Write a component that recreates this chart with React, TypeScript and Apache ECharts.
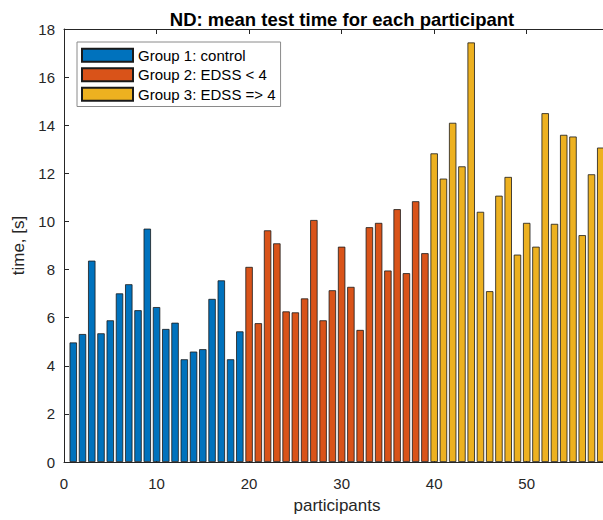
import { useEffect, useRef } from "react";
import * as echarts from "echarts";

const group1 = [4.97, 5.32, 8.37, 5.35, 5.89, 7.01, 7.39, 6.31, 9.7, 6.44, 5.53, 5.79, 4.27, 4.59, 4.69, 6.78, 7.55, 4.27, 5.43];
const group2 = [8.11, 5.77, 9.63, 9.09, 6.26, 6.22, 6.8, 10.06, 5.89, 7.14, 8.95, 7.28, 5.49, 9.76, 9.94, 7.96, 10.51, 7.85, 10.84, 8.68];
const group3 = [12.83, 11.78, 14.1, 12.29, 17.44, 10.4, 7.1, 11.07, 11.85, 8.62, 9.94, 8.95, 14.5, 9.9, 13.6, 13.53, 9.43, 11.96, 13.07];
const names = ["Group 1: control", "Group 2: EDSS < 4", "Group 3: EDSS => 4"];
const colors = ["#0072BD", "#D95319", "#EDB120"];
const starts = [1, 20, 40];

export default function App() {
  const ref = useRef<HTMLDivElement>(null);
  useEffect(() => {
    const chart = echarts.init(ref.current!, null, { renderer: "svg" });
    const groups = [group1, group2, group3];
    const font = "Liberation Sans, Arial, Helvetica, sans-serif";
    const axisColor = "#262626";
    chart.setOption({
      animation: false,
      backgroundColor: "#fff",
      title: {
        text: "ND: mean test time for each participant",
        left: 337,
        textAlign: "center",
        top: 5,
        textStyle: { fontFamily: font, fontSize: 18.5, fontWeight: "bold", color: "#000" },
      },
      legend: {
        orient: "vertical",
        left: 77,
        top: 42,
        padding: [5, 5, 4, 4],
        itemWidth: 51,
        itemHeight: 13,
        itemGap: 3,
        icon: "rect",
        borderColor: "#8a8a8a",
        borderWidth: 1,
        backgroundColor: "#fff",
        textStyle: { fontFamily: font, fontSize: 15, color: "#000", lineHeight: 16.5 },
        data: names,
      },
      grid: { left: 64, top: 29, bottom: 58, right: 10, containLabel: false },
      xAxis: [
        {
          type: "value",
          min: 0,
          max: 59,
          interval: 10,
          name: "participants",
          nameLocation: "middle",
          nameGap: 35,
          nameTextStyle: { fontFamily: font, fontSize: 17, color: axisColor },
          axisLine: { lineStyle: { color: axisColor } },
          axisTick: { inside: true, length: 5, lineStyle: { color: axisColor } },
          axisLabel: { fontFamily: font, fontSize: 15, color: axisColor, margin: 14, showMaxLabel: false },
          splitLine: { show: false },
        },
        {
          type: "value",
          position: "top",
          min: 0,
          max: 59,
          interval: 10,
          axisLine: { show: true, lineStyle: { color: axisColor } },
          axisTick: { show: true, inside: true, length: 5, lineStyle: { color: axisColor } },
          axisLabel: { show: false },
          splitLine: { show: false },
        },
      ],
      yAxis: {
        type: "value",
        min: 0,
        max: 18,
        interval: 2,
        name: "time, [s]",
        nameLocation: "middle",
        nameGap: 30,
        nameTextStyle: { fontFamily: font, fontSize: 17, color: axisColor },
        axisLine: { show: true, lineStyle: { color: axisColor } },
        axisTick: { show: true, inside: true, length: 5, lineStyle: { color: axisColor } },
        axisLabel: { fontFamily: font, fontSize: 15, color: axisColor, margin: 9 },
        splitLine: { show: false },
      },
      series: groups.map((g, k) => ({
        name: names[k],
        type: "bar",
        xAxisIndex: 0,
        barWidth: 7.4,
        barGap: "-100%",
        itemStyle: { color: colors[k], borderColor: "#1a1a1a", borderWidth: 0.8 },
        data: g.map((v, i) => [starts[k] + i, v]),
      })),
    });
    return () => chart.dispose();
  }, []);
  return (
    <div style={{ position: "fixed", left: 0, top: 0, width: 603, height: 520, overflow: "hidden", background: "#fff" }}>
      <div ref={ref} style={{ width: 620, height: 520 }} />
    </div>
  );
}
